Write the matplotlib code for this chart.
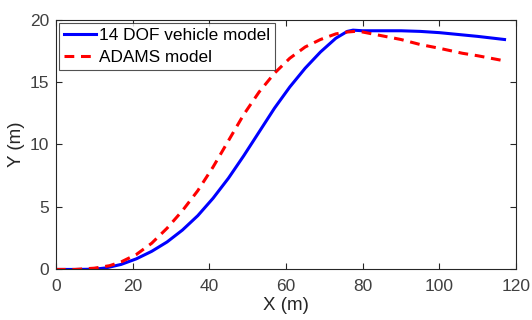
import matplotlib.pyplot as plt

plt.rcParams["font.family"] = ["Liberation Sans", "DejaVu Sans"]

# trajectory of the 14 DOF model
dof_x = [0, 5, 10, 13, 17, 21, 25, 29, 33, 37, 41, 45, 49, 53, 57, 61, 65, 69, 73, 76,
         77.5, 80, 85, 90, 95, 100, 105, 110, 117]
dof_y = [0, 0, 0.02, 0.12, 0.4, 0.85, 1.45, 2.2, 3.15, 4.3, 5.7, 7.3, 9.1, 11.0, 12.9,
         14.6, 16.1, 17.4, 18.5, 19.05, 19.15, 19.1, 19.1, 19.1, 19.05, 18.95, 18.8, 18.65, 18.4]

# trajectory from ADAMS
adams_x = [0, 5, 10, 14, 17, 21, 25, 29, 33, 37, 41, 45, 49, 53, 57, 61, 65, 69, 73, 76,
           78, 80, 85, 90, 95, 100, 106, 110, 116]
adams_y = [0, 0, 0.1, 0.3, 0.6, 1.2, 2.1, 3.3, 4.7, 6.3, 8.2, 10.3, 12.4, 14.2, 15.7,
           16.9, 17.8, 18.4, 18.85, 19.0, 19.05, 19.0, 18.7, 18.4, 18.0, 17.7, 17.3, 17.1, 16.75]

fig = plt.figure(figsize=(5.32, 3.2), dpi=100)
ax = fig.add_axes([0.105, 0.158, 0.865, 0.781])

ax.plot(dof_x, dof_y, "-", color="#0000ff", lw=2.2, label="14 DOF vehicle model")
ax.plot(adams_x, adams_y, "--", color="#ff0000", lw=2.2, dashes=(3.2, 2.2), label="ADAMS model")

ax.set_xlim(0, 120)
ax.set_ylim(0, 20)
ax.set_xticks([0, 20, 40, 60, 80, 100, 120])
ax.set_yticks([0, 5, 10, 15, 20])
ax.tick_params(direction="in", top=True, right=True, length=4, width=0.8,
               colors="#262626", labelsize=12.5, labelcolor="#404040")
ax.tick_params(axis="x", pad=7)
ax.tick_params(axis="y", pad=5)
for s in ax.spines.values():
    s.set_color("#262626")
    s.set_linewidth(0.8)

ax.set_xlabel("X (m)", fontsize=13.5, color="#262626", labelpad=2)
ax.set_ylabel("Y (m)", fontsize=13.5, color="#262626", labelpad=3)

leg = ax.legend(loc="upper left", fontsize=12.4, frameon=True, fancybox=False,
                edgecolor="#262626", borderaxespad=0.2, handlelength=1.85,
                handletextpad=0.15, borderpad=0.3, labelspacing=0.4)
leg.get_frame().set_linewidth(0.8)

fig.savefig("out.png", dpi=100)
